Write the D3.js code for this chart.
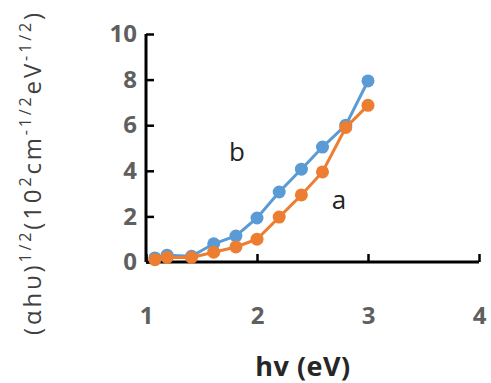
<!DOCTYPE html>
<html>
<head>
<meta charset = 'utf-8'>
<script src = 'https://d3js.org/d3.v7.min.js'></script>
<style>
body {margin: 0; background: #fff;}
</style>
</head>
<body>
<div id="chart"></div>
<script>
var energy = [1.08, 1.19, 1.41, 1.61, 1.81, 2.0, 2.2, 2.4, 2.59, 2.8, 3.0];
var seriesA = [0.1, 0.2, 0.2, 0.43, 0.66, 1.0, 1.97, 2.94, 3.95, 5.9, 6.87];
var seriesB = [0.18, 0.3, 0.25, 0.8, 1.14, 1.93, 3.07, 4.07, 5.04, 6.0, 7.94];
var xTicks = [1, 2, 3, 4];
var yTicks = [0, 2, 4, 6, 8, 10];

var W = 491, H = 383;
var margin = {top: 34, right: 12, bottom: 121, left: 146};

var svg = d3.select('#chart')
.append('svg')
.attr('width', W)
.attr('height', H);

var x = d3.scaleLinear().domain([1, 4]).range([margin.left, 479]);
var y = d3.scaleLinear().domain([0, 10]).range([H - margin.bottom, margin.top]);

var font = 'Open Sans, Liberation Sans, Arial, sans-serif';

// x axis, ticks inside
var xAxis = svg.append('g')
.attr('transform', 'translate(0,' + y(0) + ')')
.call(d3.axisBottom(x).tickValues(xTicks).tickSize(-8).tickPadding(45).tickFormat(d3.format('d')));
xAxis.select('.domain').attr('stroke', '#000').attr('stroke-width', 3).attr('d', 'M' + x(1) + ',0H' + x(4));
xAxis.selectAll('.tick line').attr('stroke', '#000').attr('stroke-width', 2.5);
xAxis.selectAll('.tick text').attr('fill', '#5f5f5f').style('font', 'bold 24px ' + font);

// y axis, ticks inside
var yAxis = svg.append('g')
.attr('transform', 'translate(' + x(1) + ',0)')
.call(d3.axisLeft(y).tickValues(yTicks).tickSize(-8).tickPadding(9));
yAxis.select('.domain').attr('stroke', '#000').attr('stroke-width', 3).attr('d', 'M0,' + y(0) + 'V' + y(10));
yAxis.selectAll('.tick line').attr('stroke', '#000').attr('stroke-width', 2.5);
yAxis.selectAll('.tick text').attr('fill', '#5f5f5f').style('font', 'bold 24px ' + font);

var line = d3.line()
.x(function(d) {return x(d[0]);})
.y(function(d) {return y(d[1]);});

function drawSeries(vals, color) {
  var pts = energy.map(function(e, i) {return [e, vals[i]];});
  svg.append('path')
  .datum(pts)
  .attr('fill', 'none')
  .attr('stroke', color)
  .attr('stroke-width', 3)
  .attr('d', line);
  svg.append('g')
  .selectAll('circle')
  .data(pts)
  .enter()
  .append('circle')
  .attr('cx', function(d) {return x(d[0]);})
  .attr('cy', function(d) {return y(d[1]);})
  .attr('r', 6.5)
  .attr('fill', color);
}
drawSeries(seriesB, '#5B9BD5');
drawSeries(seriesA, '#ED7D31');

svg.append('text')
.attr('x', 237).attr('y', 161)
.attr('text-anchor', 'middle')
.attr('fill', '#222')
.style('font', '26px ' + font)
.text('b');
svg.append('text')
.attr('x', 339).attr('y', 209)
.attr('text-anchor', 'middle')
.attr('fill', '#222')
.style('font', '26px ' + font)
.text('a');

// axis titles
svg.append('text')
.attr('x', 303).attr('y', 376)
.attr('text-anchor', 'middle')
.attr('fill', '#262626')
.style('font', 'bold 27px ' + font)
.style('letter-spacing', '0.5px')
.text('hv (eV)');

var yt = svg.append('text')
.attr('transform', 'translate(41,174) rotate(-90)')
.attr('text-anchor', 'middle')
.attr('fill', '#404040')
.attr('textLength', 322)
.attr('lengthAdjust', 'spacing')
.style('font', '24px ' + font);
yt.append('tspan').text('(αhυ)');
yt.append('tspan').attr('dy', -10).style('font-size', '16px').text('1/2');
yt.append('tspan').attr('dy', 10).text('(10');
yt.append('tspan').attr('dy', -10).style('font-size', '16px').text('2');
yt.append('tspan').attr('dy', 10).text('cm');
yt.append('tspan').attr('dy', -10).style('font-size', '16px').text('-1/2');
yt.append('tspan').attr('dy', 10).text('eV');
yt.append('tspan').attr('dy', -10).style('font-size', '16px').text('-1/2');
yt.append('tspan').attr('dy', 10).text(')');
</script>
</body>
</html>
